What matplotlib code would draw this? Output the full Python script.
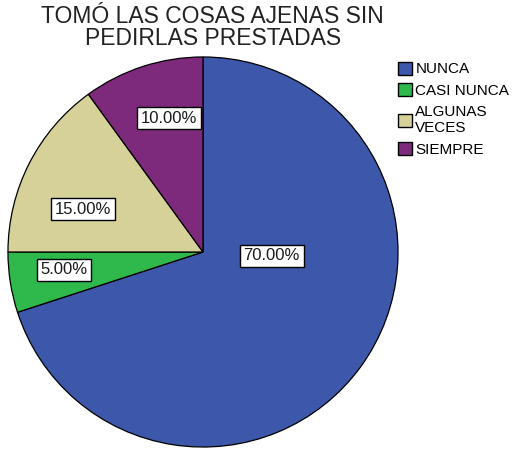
import matplotlib.pyplot as plt
from matplotlib.patches import Patch

plt.rcParams['font.family'] = ['Liberation Sans', 'DejaVu Sans']

# data
categorias = ['NUNCA', 'CASI NUNCA', 'ALGUNAS\nVECES', 'SIEMPRE']
porcentajes = [70.0, 5.0, 15.0, 10.0]
colores = ['#3d57ab', '#2fb84b', '#d5d199', '#7e2a7c']
# label positions (pie radius = 1)
pos_etiquetas = [(0.352, -0.02), (-0.712, -0.092), (-0.615, 0.219), (-0.173, 0.686)]

fig = plt.figure(figsize=(5.16, 4.49), dpi=100)
ax = fig.add_axes([7 / 516, 1 / 449, 392 / 516, 392 / 449])

wedges, _ = ax.pie(porcentajes, colors=colores, startangle=90, counterclock=False,
                   radius=1.0, wedgeprops=dict(edgecolor='black', linewidth=0.9))
for (x, y), p in zip(pos_etiquetas, porcentajes):
    ax.text(x, y, '%.2f%%' % p, ha='center', va='center', fontsize=12, color='#1a1a1a',
            bbox=dict(boxstyle='square,pad=0.22', facecolor='white', edgecolor='black', linewidth=1.0))
ax.set_xlim(-1.005, 1.005)
ax.set_ylim(-1.005, 1.005)
ax.set_aspect('equal')
ax.axis('off')

fig.text(0.412, 0.988, 'TOMÓ LAS COSAS AJENAS SIN\nPEDIRLAS PRESTADAS', ha='center', va='top',
         fontsize=16.5, linespacing=0.95, color='#222222')

handles = [Patch(facecolor=c, edgecolor='black', linewidth=1.0) for c in colores]
fig.legend(handles, categorias, loc='upper left', bbox_to_anchor=(0.771, 0.863), frameon=False,
           fontsize=11, handlelength=0.95, handleheight=0.95, handletextpad=0.2,
           labelspacing=0.45, borderaxespad=0, borderpad=0)

fig.savefig('out.png', dpi=100)
